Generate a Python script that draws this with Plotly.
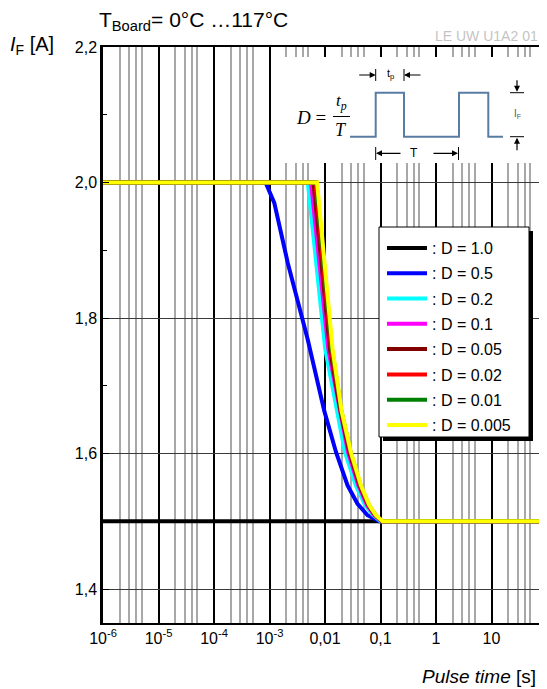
import plotly.graph_objects as go

# ---- data ----
duty_names = [": D = 1.0", ": D = 0.5", ": D = 0.2", ": D = 0.1",
              ": D = 0.05", ": D = 0.02", ": D = 0.01", ": D = 0.005"]
duty_colors = ["#000000", "#0000ff", "#00ffff", "#ff00ff",
               "#800000", "#ff0000", "#008000", "#ffff00"]

t_d1000 = [1e-6, 100]
i_d1000 = [1.5, 1.5]

t_d0500 = [1e-6, 8.5e-4, 1.22e-3, 2.14e-3, 4.86e-3, 9.7e-3, 0.0158, 0.0255, 0.0385, 0.0583, 0.095, 100]
i_d0500 = [2.0, 2.0, 1.970, 1.881, 1.769, 1.663, 1.602, 1.553, 1.526, 1.509, 1.5, 1.5]

t_d0200 = [1e-6, 4.9e-3, 0.0101, 0.0169, 0.0229, 0.036, 0.052, 0.072, 0.1, 100]
i_d0200 = [2.0, 2.0, 1.754, 1.663, 1.602, 1.553, 1.525, 1.510, 1.5, 1.5]

t_d0100 = [1e-6, 5.6e-3, 0.0115, 0.0185, 0.026, 0.040, 0.057, 0.077, 0.104, 100]
i_d0100 = [2.0, 2.0, 1.754, 1.663, 1.602, 1.553, 1.524, 1.509, 1.5, 1.5]

t_d0050 = [1e-6, 6.2e-3, 0.0123, 0.0190, 0.0275, 0.042, 0.060, 0.080, 0.106, 100]
i_d0050 = [2.0, 2.0, 1.754, 1.663, 1.602, 1.553, 1.524, 1.509, 1.5, 1.5]

t_d0020 = [1e-6, 6.7e-3, 0.0130, 0.0195, 0.0285, 0.043, 0.061, 0.081, 0.107, 100]
i_d0020 = [2.0, 2.0, 1.754, 1.663, 1.602, 1.553, 1.524, 1.509, 1.5, 1.5]

t_d0010 = [1e-6, 7.0e-3, 0.0134, 0.0197, 0.0290, 0.0437, 0.062, 0.082, 0.108, 100]
i_d0010 = [2.0, 2.0, 1.754, 1.663, 1.602, 1.553, 1.524, 1.509, 1.5, 1.5]

t_d0005 = [1e-6, 7.2e-3, 0.0137, 0.0199, 0.0293, 0.0444, 0.0627, 0.0826, 0.109, 100]
i_d0005 = [2.0, 2.0, 1.754, 1.663, 1.602, 1.553, 1.524, 1.509, 1.5, 1.5]

x_tickvals = [1e-6, 1e-5, 1e-4, 1e-3, 1e-2, 1e-1, 1, 10]
x_ticktext = ["10<sup>-6</sup>", "10<sup>-5</sup>", "10<sup>-4</sup>", "10<sup>-3</sup>",
              "0,01", "0,1", "1", "10"]
x_minorvals = [m * 10.0 ** e for e in range(-6, 2) for m in (2, 3, 4, 5)]

series_t = [t_d1000, t_d0500, t_d0200, t_d0100, t_d0050, t_d0020, t_d0010, t_d0005]
series_i = [i_d1000, i_d0500, i_d0200, i_d0100, i_d0050, i_d0020, i_d0010, i_d0005]

# ---- page geometry (pixels, page coords; body has an 8px margin) ----
OFF = 8
W, H = 547 - OFF, 689 - OFF
L, R, T, B = 95, 0, 39, 66
PW, PH = W - L - R, H - T - B


def px(x):
    return (x - OFF - L) / PW


def py(y):
    return (H - B - (y - OFF)) / PH


FONT = "Liberation Sans, Arial, sans-serif"
SERIF = "Liberation Serif, Times New Roman, serif"

fig = go.Figure()
for name, color, t, i in zip(duty_names, duty_colors, series_t, series_i):
    fig.add_trace(go.Scatter(x=t, y=i, name=name, mode="lines",
                             line=dict(color=color, width=4),
                             legendgroup=name))

shapes = []
annos = []

# legend box with drop shadow
shapes.append(dict(type="rect", xref="paper", yref="paper", layer="above",
                   x0=px(383), x1=px(533), y0=py(441), y1=py(231),
                   fillcolor="black", line=dict(width=0)))
shapes.append(dict(type="rect", xref="paper", yref="paper", layer="above",
                   x0=px(379), x1=px(529), y0=py(437), y1=py(227),
                   fillcolor="white", line=dict(color="black", width=1)))

# inset with duty cycle definition
shapes.append(dict(type="rect", xref="paper", yref="paper", layer="above",
                   x0=px(284), x1=px(546), y0=py(163), y1=py(57),
                   fillcolor="white", line=dict(width=0)))
wave = [(350, 136.7), (375.7, 136.7), (375.7, 92.7), (404, 92.7), (404, 136.7),
        (459, 136.7), (459, 92.7), (488.3, 92.7), (488.3, 136.7), (503, 136.7)]
path = "M " + " L ".join(f"{px(a):.5f},{py(b):.5f}" for a, b in wave)
shapes.append(dict(type="path", xref="paper", yref="paper", layer="above", path=path,
                   line=dict(color="#5a7ca3", width=2)))


def seg(x0, y0, x1, y1, w=1):
    shapes.append(dict(type="line", xref="paper", yref="paper", layer="above",
                       x0=px(x0), y0=py(y0), x1=px(x1), y1=py(y1),
                       line=dict(color="black", width=w)))


def arrow(x, y, ax, ay):
    annos.append(dict(xref="paper", yref="paper", x=px(x), y=py(y), ax=ax, ay=ay,
                      text="", showarrow=True, arrowhead=2, arrowsize=1,
                      arrowwidth=1.2, arrowcolor="black"))


def label(x, y, text, size, family=FONT, color="black", xanchor="center"):
    annos.append(dict(xref="paper", yref="paper", x=px(x), y=py(y), text=text,
                      showarrow=False, xanchor=xanchor, yanchor="middle",
                      font=dict(size=size, family=family, color=color)))


# t_p marks
seg(375.7, 69, 375.7, 81)
seg(404, 69, 404, 81)
arrow(375.7, 75, -18, 0)
arrow(404, 75, 18, 0)
label(390, 74, "t<sub>p</sub>", 11)
# T marks
seg(375.7, 147, 375.7, 160)
seg(458.5, 147, 458.5, 160)
arrow(376, 153.3, 26, 0)
arrow(458, 153.3, -26, 0)
label(414, 153, "T", 12)
# I_F marks
seg(510, 92.7, 524, 92.7)
seg(510, 136.7, 524, 136.7)
arrow(517, 91.7, 0, -13)
arrow(517, 137.7, 0, 14)
label(517, 114, "I<sub>F</sub>", 10, color="#555555")
# formula D = tp / T
label(311, 117, "<i>D</i> =", 19, family=SERIF)
label(341, 102, "<i>t<sub>p</sub></i>", 17, family=SERIF)
label(341, 130, "<i>T</i>", 18, family=SERIF)
seg(333, 116.5, 350, 116.5)

# titles
label(97, 21, "T<sub>Board</sub>= 0°C …117°C", 21, xanchor="left")
label(540, 36, "LE UW U1A2 01", 14, color="#c4c4c4", xanchor="right")
label(8, 46, "<i>I</i><sub>F</sub> [A]", 20, xanchor="left")
label(538, 676, "<i>Pulse time</i> [s]", 19, xanchor="right")

fig.update_layout(
    width=W, height=H,
    margin=dict(l=L, r=R, t=T, b=B),
    paper_bgcolor="white", plot_bgcolor="white",
    separators=", ",
    font=dict(family=FONT, size=16, color="black"),
    showlegend=True,
    legend=dict(x=px(382), y=py(231), xanchor="left", yanchor="top",
                bgcolor="rgba(0,0,0,0)", borderwidth=0,
                font=dict(size=16, family=FONT), tracegroupgap=1.5,
                itemwidth=40),
    shapes=shapes,
    annotations=annos,
)
fig.update_xaxes(
    type="log", range=[-6, 2],
    tickmode="array", tickvals=x_tickvals, ticktext=x_ticktext,
    showgrid=True, gridcolor="black", gridwidth=1.5,
    showline=True, linecolor="black", linewidth=2, mirror=True,
    ticks="", zeroline=False, tickfont=dict(size=16),
    minor=dict(tickvals=x_minorvals, showgrid=True, gridcolor="#a8a8a8",
               gridwidth=1.5, ticks=""),
)
fig.update_yaxes(
    range=[1.35, 2.2], tick0=1.4, dtick=0.2, tickformat=".1f",
    showgrid=True, gridcolor="#3a3a3a", gridwidth=1,
    showline=True, linecolor="black", linewidth=2.5, mirror=False,
    ticks="inside", ticklen=6, tickcolor="black", zeroline=False,
    tickfont=dict(size=16),
    minor=dict(tick0=1.3, dtick=0.1, ticks="inside", ticklen=4,
               tickcolor="black", showgrid=False),
)

fig.write_html("out.html")
